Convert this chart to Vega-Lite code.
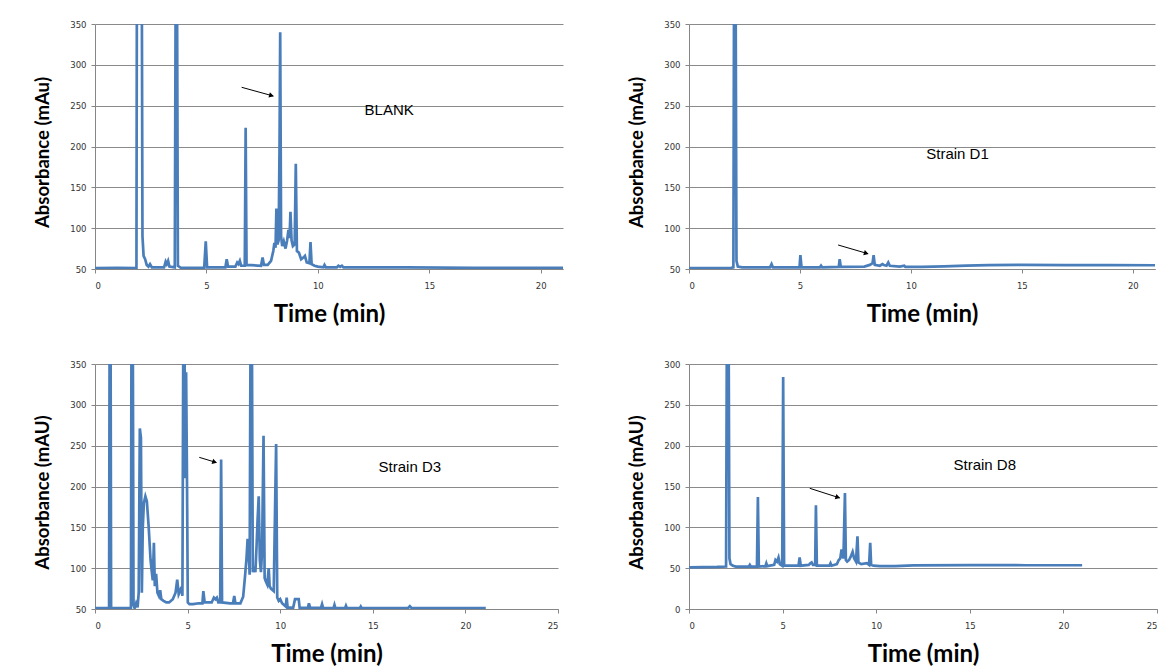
{
  "$schema": "https://vega.github.io/schema/vega-lite/v6.json",
  "background": "white",
  "padding": {"left": 33, "top": 20, "right": 0, "bottom": 0},
  "columns": 2,
  "spacing": {"row": 33, "column": 64},
  "config": {
    "view": {"stroke": null},
    "axis": {
      "labelFont": "DejaVu Sans", "labelFontSize": 8.5, "labelColor": "#333333",
      "domainColor": "#868686", "tickColor": "#868686", "gridColor": "#8a8a8a", "gridWidth": 1,
      "titleFont": "Lato", "titleFontWeight": "bold", "titleColor": "#000000",
      "tickSize": 4
    },
    "axisX": {"grid": false, "labelPadding": 8, "titlePadding": 13, "labelAngle": 0, "titleFontSize": 24},
    "axisY": {"grid": true, "labelPadding": 5, "titlePadding": 17, "titleFontSize": 18.5},
    "axisLeft": {"titleY": 128}
  },
  "datasets": {
    "blank": [
      {"t":0,"a":51},{"t":1,"a":51.5},{"t":1.86,"a":51},{"t":1.88,"a":400},{"t":2.1,"a":400},{"t":2.13,"a":90},{"t":2.18,"a":66},{"t":2.25,"a":62},{"t":2.32,"a":55},{"t":2.4,"a":53},{"t":2.47,"a":56},{"t":2.55,"a":52},{"t":3.1,"a":52},{"t":3.17,"a":59},{"t":3.22,"a":56},{"t":3.28,"a":60},{"t":3.34,"a":53},{"t":3.58,"a":52},{"t":3.62,"a":400},{"t":3.68,"a":400},{"t":3.72,"a":54},{"t":3.85,"a":51.5},{"t":4.9,"a":51.5},{"t":4.97,"a":84},{"t":5.03,"a":52},{"t":5.85,"a":52},{"t":5.91,"a":62},{"t":5.97,"a":53},{"t":6.3,"a":53},{"t":6.38,"a":58},{"t":6.44,"a":56},{"t":6.5,"a":60},{"t":6.56,"a":54},{"t":6.72,"a":54},{"t":6.76,"a":223},{"t":6.8,"a":55},{"t":7.45,"a":54},{"t":7.52,"a":64},{"t":7.58,"a":55},{"t":7.75,"a":55},{"t":7.9,"a":60},{"t":8.0,"a":72},{"t":8.05,"a":82},{"t":8.1,"a":76},{"t":8.14,"a":124},{"t":8.18,"a":80},{"t":8.24,"a":85},{"t":8.28,"a":200},{"t":8.31,"a":340},{"t":8.35,"a":90},{"t":8.4,"a":78},{"t":8.47,"a":84},{"t":8.55,"a":75},{"t":8.62,"a":85},{"t":8.68,"a":98},{"t":8.73,"a":88},{"t":8.77,"a":120},{"t":8.82,"a":85},{"t":8.88,"a":78},{"t":8.96,"a":80},{"t":9.01,"a":179},{"t":9.06,"a":72},{"t":9.15,"a":70},{"t":9.25,"a":62},{"t":9.35,"a":64},{"t":9.42,"a":66},{"t":9.5,"a":58},{"t":9.62,"a":57},{"t":9.67,"a":83},{"t":9.72,"a":56},{"t":9.85,"a":54},{"t":10.0,"a":53},{"t":10.25,"a":52},{"t":10.3,"a":55},{"t":10.36,"a":52},{"t":10.85,"a":52},{"t":10.92,"a":54},{"t":11.0,"a":52.5},{"t":11.08,"a":54},{"t":11.15,"a":52},{"t":12,"a":52},{"t":14,"a":52},{"t":17,"a":51.5},{"t":21,"a":51.5}
    ],
    "d1": [
      {"t":0,"a":51},{"t":1.9,"a":51.5},{"t":2.0,"a":52},{"t":2.03,"a":400},{"t":2.1,"a":400},{"t":2.14,"a":60},{"t":2.2,"a":53},{"t":2.4,"a":52},{"t":3.65,"a":52},{"t":3.72,"a":56},{"t":3.78,"a":52},{"t":4.98,"a":52},{"t":5.02,"a":67},{"t":5.07,"a":52},{"t":5.9,"a":52},{"t":5.95,"a":54},{"t":6.0,"a":52},{"t":6.75,"a":52.5},{"t":6.79,"a":62},{"t":6.84,"a":52.5},{"t":7.9,"a":53},{"t":8.15,"a":55},{"t":8.27,"a":57},{"t":8.32,"a":67},{"t":8.37,"a":55},{"t":8.6,"a":54},{"t":8.72,"a":56},{"t":8.78,"a":55},{"t":8.9,"a":54},{"t":8.98,"a":58},{"t":9.05,"a":54},{"t":9.5,"a":53},{"t":9.7,"a":54},{"t":9.75,"a":52.5},{"t":10.5,"a":52.5},{"t":11.5,"a":53.2},{"t":12.5,"a":54.2},{"t":13.5,"a":54.8},{"t":15,"a":55},{"t":17,"a":54.8},{"t":19,"a":54.8},{"t":21,"a":54.6}
    ],
    "d3": [
      {"t":0,"a":51},{"t":0.76,"a":51},{"t":0.79,"a":400},{"t":0.84,"a":400},{"t":0.87,"a":51},{"t":1.94,"a":51},{"t":1.97,"a":400},{"t":2.04,"a":400},{"t":2.08,"a":55},{"t":2.14,"a":51},{"t":2.22,"a":57},{"t":2.3,"a":52},{"t":2.36,"a":70},{"t":2.42,"a":271},{"t":2.48,"a":260},{"t":2.53,"a":70},{"t":2.58,"a":150},{"t":2.64,"a":180},{"t":2.72,"a":188},{"t":2.8,"a":182},{"t":2.9,"a":150},{"t":3.0,"a":110},{"t":3.07,"a":95},{"t":3.12,"a":85},{"t":3.18,"a":131},{"t":3.23,"a":78},{"t":3.3,"a":93},{"t":3.37,"a":70},{"t":3.45,"a":66},{"t":3.52,"a":73},{"t":3.58,"a":62},{"t":3.7,"a":60},{"t":3.85,"a":58},{"t":4.0,"a":58},{"t":4.2,"a":62},{"t":4.35,"a":70},{"t":4.44,"a":86},{"t":4.52,"a":68},{"t":4.6,"a":72},{"t":4.67,"a":77},{"t":4.72,"a":66},{"t":4.77,"a":400},{"t":4.84,"a":350},{"t":4.88,"a":210},{"t":4.92,"a":340},{"t":4.97,"a":200},{"t":5.01,"a":58},{"t":5.1,"a":56},{"t":5.3,"a":56},{"t":5.6,"a":57},{"t":5.8,"a":57},{"t":5.85,"a":72},{"t":5.92,"a":58},{"t":6.3,"a":58},{"t":6.42,"a":64},{"t":6.5,"a":62},{"t":6.58,"a":64},{"t":6.66,"a":58},{"t":6.76,"a":58},{"t":6.81,"a":233},{"t":6.86,"a":58},{"t":7.3,"a":57},{"t":7.45,"a":57},{"t":7.52,"a":66},{"t":7.58,"a":57},{"t":7.85,"a":57},{"t":8.0,"a":65},{"t":8.1,"a":90},{"t":8.18,"a":112},{"t":8.24,"a":136},{"t":8.3,"a":118},{"t":8.35,"a":92},{"t":8.4,"a":400},{"t":8.47,"a":400},{"t":8.52,"a":95},{"t":8.6,"a":102},{"t":8.66,"a":95},{"t":8.72,"a":125},{"t":8.78,"a":160},{"t":8.84,"a":188},{"t":8.9,"a":110},{"t":8.96,"a":95},{"t":9.02,"a":120},{"t":9.1,"a":262},{"t":9.16,"a":88},{"t":9.22,"a":84},{"t":9.3,"a":80},{"t":9.38,"a":100},{"t":9.43,"a":78},{"t":9.5,"a":75},{"t":9.65,"a":72},{"t":9.78,"a":252},{"t":9.84,"a":64},{"t":9.92,"a":60},{"t":10.0,"a":62},{"t":10.1,"a":57},{"t":10.3,"a":53},{"t":10.35,"a":64},{"t":10.4,"a":52},{"t":10.7,"a":51.5},{"t":10.8,"a":62},{"t":11.0,"a":62},{"t":11.05,"a":51.5},{"t":11.5,"a":51.5},{"t":11.55,"a":57},{"t":11.62,"a":51.5},{"t":12.2,"a":51.5},{"t":12.26,"a":56},{"t":12.32,"a":51},{"t":12.88,"a":51},{"t":12.93,"a":55},{"t":12.98,"a":51},{"t":13.5,"a":51},{"t":13.55,"a":54},{"t":13.6,"a":51},{"t":14.3,"a":51},{"t":14.35,"a":53},{"t":14.4,"a":51},{"t":16.9,"a":51},{"t":17.0,"a":53.5},{"t":17.1,"a":51},{"t":21.1,"a":51}
    ],
    "d8": [
      {"t":0,"a":51},{"t":1.5,"a":51.5},{"t":1.98,"a":52},{"t":2.02,"a":320},{"t":2.12,"a":320},{"t":2.16,"a":62},{"t":2.22,"a":55},{"t":2.35,"a":53},{"t":2.5,"a":52},{"t":3.2,"a":52},{"t":3.25,"a":54},{"t":3.3,"a":52},{"t":3.63,"a":52},{"t":3.68,"a":137},{"t":3.73,"a":52},{"t":4.08,"a":52.5},{"t":4.13,"a":56},{"t":4.18,"a":52.5},{"t":4.55,"a":54},{"t":4.62,"a":60},{"t":4.7,"a":58},{"t":4.78,"a":63},{"t":4.85,"a":55},{"t":4.98,"a":53},{"t":5.03,"a":284},{"t":5.08,"a":53},{"t":5.85,"a":53},{"t":5.91,"a":63},{"t":5.97,"a":53},{"t":6.4,"a":54},{"t":6.48,"a":56},{"t":6.55,"a":57},{"t":6.62,"a":54},{"t":6.74,"a":54},{"t":6.78,"a":127},{"t":6.83,"a":53},{"t":7.5,"a":53},{"t":7.56,"a":56},{"t":7.62,"a":53},{"t":7.9,"a":55},{"t":8.0,"a":60},{"t":8.08,"a":62},{"t":8.15,"a":73},{"t":8.2,"a":65},{"t":8.25,"a":62},{"t":8.33,"a":142},{"t":8.38,"a":60},{"t":8.45,"a":58},{"t":8.55,"a":60},{"t":8.64,"a":64},{"t":8.74,"a":70},{"t":8.82,"a":62},{"t":8.92,"a":58},{"t":9.0,"a":89},{"t":9.05,"a":57},{"t":9.2,"a":55},{"t":9.5,"a":56},{"t":9.62,"a":54},{"t":9.68,"a":81},{"t":9.73,"a":54},{"t":9.85,"a":53},{"t":10.2,"a":52.5},{"t":11,"a":52.5},{"t":12,"a":53.5},{"t":15,"a":53.8},{"t":18,"a":53.6},{"t":21,"a":53.6}
    ]
  },
  "concat": [
    {
      "width": 468, "height": 245,
      "layer": [
        {"data": {"name": "blank"}, "mark": {"type": "line", "color": "#4a7ebb", "strokeWidth": 2.7, "clip": true},
         "encoding": {
           "x": {"field": "t", "type": "quantitative", "scale": {"domain": [0, 21], "nice": false}, "axis": {"values": [0,5,10,15,20], "title": "Time (min)"}},
           "y": {"field": "a", "type": "quantitative", "scale": {"domain": [50, 350], "nice": false}, "axis": {"values": [50,100,150,200,250,300,350], "title": "Absorbance (mAu)"}}}},
        {"data": {"values": [{"t": 13.2, "a": 245, "label": "BLANK"}]}, "mark": {"type": "text", "font": "Liberation Sans", "fontSize": 15, "color": "#000000"},
         "encoding": {"x": {"field": "t", "type": "quantitative"}, "y": {"field": "a", "type": "quantitative"}, "text": {"field": "label"}}},
        {"data": {"values": [{"t": 6.58, "a": 272.5, "t2": 8.0, "a2": 261.8}]}, "mark": {"type": "rule", "color": "#000000", "strokeWidth": 1},
         "encoding": {"x": {"field": "t", "type": "quantitative"}, "y": {"field": "a", "type": "quantitative"}, "x2": {"field": "t2"}, "y2": {"field": "a2"}}},
        {"data": {"values": [{"t2": 7.92, "a2": 262.4}]}, "mark": {"type": "point", "shape": "triangle-right", "filled": true, "color": "#000000", "size": 30, "angle": 15, "opacity": 1},
         "encoding": {"x": {"field": "t2", "type": "quantitative"}, "y": {"field": "a2", "type": "quantitative"}}}
      ]
    },
    {
      "width": 466, "height": 245,
      "layer": [
        {"data": {"name": "d1"}, "mark": {"type": "line", "color": "#4a7ebb", "strokeWidth": 2.7, "clip": true},
         "encoding": {
           "x": {"field": "t", "type": "quantitative", "scale": {"domain": [0, 21], "nice": false}, "axis": {"values": [0,5,10,15,20], "title": "Time (min)"}},
           "y": {"field": "a", "type": "quantitative", "scale": {"domain": [50, 350], "nice": false}, "axis": {"values": [50,100,150,200,250,300,350], "title": "Absorbance (mAu)"}}}},
        {"data": {"values": [{"t": 12.1, "a": 191, "label": "Strain D1"}]}, "mark": {"type": "text", "font": "Liberation Sans", "fontSize": 15, "color": "#000000"},
         "encoding": {"x": {"field": "t", "type": "quantitative"}, "y": {"field": "a", "type": "quantitative"}, "text": {"field": "label"}}},
        {"data": {"values": [{"t": 6.72, "a": 79.4, "t2": 8.07, "a2": 68.7}]}, "mark": {"type": "rule", "color": "#000000", "strokeWidth": 1},
         "encoding": {"x": {"field": "t", "type": "quantitative"}, "y": {"field": "a", "type": "quantitative"}, "x2": {"field": "t2"}, "y2": {"field": "a2"}}},
        {"data": {"values": [{"t2": 7.99, "a2": 69.3}]}, "mark": {"type": "point", "shape": "triangle-right", "filled": true, "color": "#000000", "size": 30, "angle": 16, "opacity": 1},
         "encoding": {"x": {"field": "t2", "type": "quantitative"}, "y": {"field": "a2", "type": "quantitative"}}}
      ]
    },
    {
      "width": 463, "height": 245,
      "layer": [
        {"data": {"name": "d3"}, "mark": {"type": "line", "color": "#4a7ebb", "strokeWidth": 2.7, "clip": true},
         "encoding": {
           "x": {"field": "t", "type": "quantitative", "scale": {"domain": [0, 25], "nice": false}, "axis": {"values": [0,5,10,15,20,25], "title": "Time (min)"}},
           "y": {"field": "a", "type": "quantitative", "scale": {"domain": [50, 350], "nice": false}, "axis": {"values": [50,100,150,200,250,300,350], "title": "Absorbance (mAU)"}}}},
        {"data": {"values": [{"t": 17.0, "a": 224, "label": "Strain D3"}]}, "mark": {"type": "text", "font": "Liberation Sans", "fontSize": 15, "color": "#000000"},
         "encoding": {"x": {"field": "t", "type": "quantitative"}, "y": {"field": "a", "type": "quantitative"}, "text": {"field": "label"}}},
        {"data": {"values": [{"t": 5.63, "a": 235.7, "t2": 6.55, "a2": 229.4}]}, "mark": {"type": "rule", "color": "#000000", "strokeWidth": 1},
         "encoding": {"x": {"field": "t", "type": "quantitative"}, "y": {"field": "a", "type": "quantitative"}, "x2": {"field": "t2"}, "y2": {"field": "a2"}}},
        {"data": {"values": [{"t2": 6.46, "a2": 230.0}]}, "mark": {"type": "point", "shape": "triangle-right", "filled": true, "color": "#000000", "size": 30, "angle": 17, "opacity": 1},
         "encoding": {"x": {"field": "t2", "type": "quantitative"}, "y": {"field": "a2", "type": "quantitative"}}}
      ]
    },
    {
      "width": 468, "height": 245,
      "layer": [
        {"data": {"name": "d8"}, "mark": {"type": "line", "color": "#4a7ebb", "strokeWidth": 2.7, "clip": true},
         "encoding": {
           "x": {"field": "t", "type": "quantitative", "scale": {"domain": [0, 25], "nice": false}, "axis": {"values": [0,5,10,15,20,25], "title": "Time (min)"}},
           "y": {"field": "a", "type": "quantitative", "scale": {"domain": [0, 300], "nice": false}, "axis": {"values": [0,50,100,150,200,250,300], "title": "Absorbance (mAU)"}}}},
        {"data": {"values": [{"t": 15.8, "a": 176, "label": "Strain D8"}]}, "mark": {"type": "text", "font": "Liberation Sans", "fontSize": 15, "color": "#000000"},
         "encoding": {"x": {"field": "t", "type": "quantitative"}, "y": {"field": "a", "type": "quantitative"}, "text": {"field": "label"}}},
        {"data": {"values": [{"t": 6.45, "a": 147.8, "t2": 8.05, "a2": 136}]}, "mark": {"type": "rule", "color": "#000000", "strokeWidth": 1},
         "encoding": {"x": {"field": "t", "type": "quantitative"}, "y": {"field": "a", "type": "quantitative"}, "x2": {"field": "t2"}, "y2": {"field": "a2"}}},
        {"data": {"values": [{"t2": 7.95, "a2": 136.8}]}, "mark": {"type": "point", "shape": "triangle-right", "filled": true, "color": "#000000", "size": 30, "angle": 18, "opacity": 1},
         "encoding": {"x": {"field": "t2", "type": "quantitative"}, "y": {"field": "a2", "type": "quantitative"}}}
      ]
    }
  ]
}
